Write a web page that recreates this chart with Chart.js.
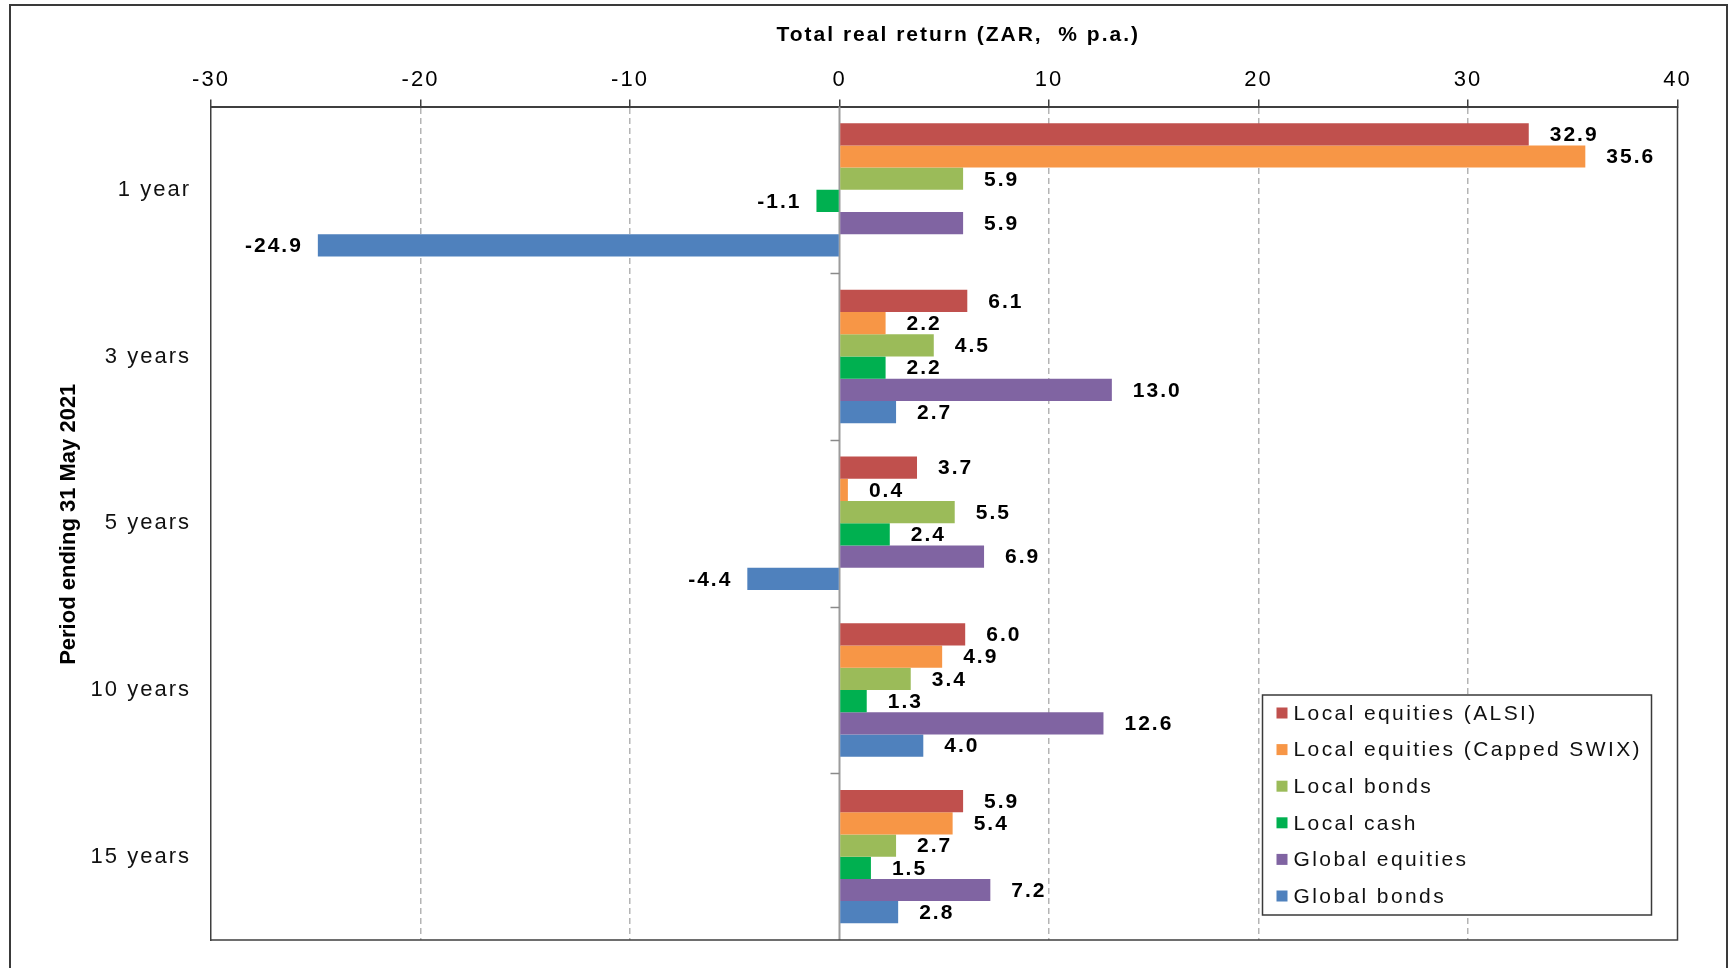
<!DOCTYPE html>
<html>
<head>
<meta charset="utf-8">
<script src="https://cdn.jsdelivr.net/npm/chart.js@4.4.1/dist/chart.umd.min.js"></script>
<style>
  html, body { margin: 0; padding: 0; background: #ffffff; overflow: hidden; }
  #wrap { position: relative; width: 1735px; height: 968px; }
  #frame { position: absolute; left: 9px; top: 4px; width: 1719px; height: 1100px;
           border: 2px solid #3a3a3a; box-sizing: border-box; pointer-events: none; }
  canvas { position: absolute; left: 0; top: 0; }
</style>
</head>
<body>
<div id="wrap">
  <canvas id="c" width="1735" height="968"></canvas>
  <div id="frame"></div>
</div>
<script>
// Periods (categories) and real returns per asset class, % p.a.
const periods = ['1 year', '3 years', '5 years', '10 years', '15 years'];
const seriesNames = [
  'Local equities (ALSI)',
  'Local equities (Capped SWIX)',
  'Local bonds',
  'Local cash',
  'Global equities',
  'Global bonds'
];
const alsi           = [32.9, 6.1, 3.7, 6.0, 5.9];
const cappedSwix     = [35.6, 2.2, 0.4, 4.9, 5.4];
const localBonds     = [5.9, 4.5, 5.5, 3.4, 2.7];
const localCash      = [-1.1, 2.2, 2.4, 1.3, 1.5];
const globalEquities = [5.9, 13.0, 6.9, 12.6, 7.2];
const globalBonds    = [-24.9, 2.7, -4.4, 4.0, 2.8];
const xTickValues    = [-30, -20, -10, 0, 10, 20, 30, 40];
const xTitle = 'Total real return (ZAR,  % p.a.)';
const yTitle = 'Period ending 31 May 2021';

const seriesColors = ['#C0504D', '#F79646', '#9BBB59', '#00B050', '#8064A2', '#4F81BD'];
const seriesValues = [alsi, cappedSwix, localBonds, localCash, globalEquities, globalBonds];

const FONT = "'Liberation Sans', Arial, Helvetica, sans-serif";

// Wider character spacing for all canvas text
const spacingPlugin = {
  id: 'spacing',
  beforeUpdate(chart) { chart.ctx.letterSpacing = '2px'; },
  beforeDraw(chart) { chart.ctx.letterSpacing = '2px'; }
};

// Zero line, category separators on it, and the plot frame
const framePlugin = {
  id: 'frame',
  beforeDatasetsDraw(chart) {
    const { ctx, chartArea: a, scales: { x } } = chart;
    const x0 = x.getPixelForValue(0);
    ctx.save();
    ctx.strokeStyle = '#9c9c9c';
    ctx.lineWidth = 2;
    ctx.beginPath();
    ctx.moveTo(x0, a.top);
    ctx.lineTo(x0, a.bottom);
    ctx.stroke();
    // small tick marks between category groups
    ctx.lineWidth = 1.5;
    ctx.strokeStyle = '#8a8a8a';
    const step = (a.bottom - a.top) / periods.length;
    for (let i = 1; i < periods.length; i++) {
      const yy = Math.round(a.top + step * i) + 0.5;
      ctx.beginPath();
      ctx.moveTo(x0 - 9, yy);
      ctx.lineTo(x0, yy);
      ctx.stroke();
    }
    ctx.restore();
  },
  afterDraw(chart) {
    const { ctx, chartArea: a } = chart;
    ctx.save();
    ctx.strokeStyle = '#3f3f3f';
    ctx.lineWidth = 1.5;
    ctx.beginPath();
    ctx.moveTo(a.right, a.top);
    ctx.lineTo(a.right, a.bottom);
    ctx.lineTo(a.left, a.bottom);
    ctx.stroke();
    ctx.restore();
  }
};

// Value labels beside each bar end
const valueLabelPlugin = {
  id: 'valueLabels',
  afterDatasetsDraw(chart) {
    const ctx = chart.ctx;
    ctx.save();
    ctx.letterSpacing = '2px';
    ctx.font = 'bold 21px ' + FONT;
    ctx.fillStyle = '#000000';
    ctx.textBaseline = 'middle';
    chart.data.datasets.forEach((ds, di) => {
      const meta = chart.getDatasetMeta(di);
      meta.data.forEach((bar, i) => {
        const v = ds.data[i];
        const txt = v.toFixed(1);
        if (v >= 0) {
          ctx.textAlign = 'left';
          ctx.fillText(txt, bar.x + 21, bar.y + 1);
        } else {
          ctx.textAlign = 'right';
          ctx.fillText(txt, bar.x - 15, bar.y + 1);
        }
      });
    });
    ctx.restore();
  }
};

// Axis titles
const titlePlugin = {
  id: 'axisTitles',
  afterDraw(chart) {
    const { ctx, chartArea: a } = chart;
    ctx.save();
    ctx.fillStyle = '#000000';
    ctx.textAlign = 'center';
    ctx.textBaseline = 'middle';
    ctx.letterSpacing = '2px';
    ctx.font = 'bold 21px ' + FONT;
    ctx.fillText(xTitle, (a.left + a.right) / 2 + 14, 35);
    ctx.letterSpacing = '0px';
    ctx.font = 'bold 22px ' + FONT;
    ctx.translate(69, (a.top + a.bottom) / 2 + 1);
    ctx.rotate(-Math.PI / 2);
    ctx.fillText(yTitle, 0, 0);
    ctx.restore();
  }
};

// Legend box inside the plot area, lower right
const legendPlugin = {
  id: 'boxLegend',
  afterDraw(chart) {
    const { ctx, chartArea: a } = chart;
    const right = a.right - 26, bottom = a.bottom - 25;
    const w = 389, h = 220;
    const left = right - w, top = bottom - h;
    ctx.save();
    ctx.fillStyle = '#ffffff';
    ctx.fillRect(left, top, w, h);
    ctx.strokeStyle = '#3a3a3a';
    ctx.lineWidth = 1.5;
    ctx.strokeRect(left, top, w, h);
    ctx.letterSpacing = '2.4px';
    ctx.font = '21px ' + FONT;
    ctx.textBaseline = 'middle';
    ctx.textAlign = 'left';
    chart.data.datasets.forEach((ds, i) => {
      const cy = top + 18 + i * 36.6;
      ctx.fillStyle = ds.backgroundColor;
      ctx.fillRect(left + 14, cy - 5.5, 11, 11);
      ctx.fillStyle = '#111111';
      ctx.fillText(ds.label, left + 31, cy + 1);
    });
    ctx.restore();
  }
};

const datasets = seriesNames.map((name, i) => ({
  label: name,
  data: seriesValues[i],
  backgroundColor: seriesColors[i],
  borderWidth: 0,
  categoryPercentage: 0.8,
  barPercentage: 1.0
}));

new Chart(document.getElementById('c'), {
  type: 'bar',
  data: { labels: periods, datasets },
  plugins: [spacingPlugin, framePlugin, valueLabelPlugin, titlePlugin, legendPlugin],
  options: {
    indexAxis: 'y',
    responsive: false,
    devicePixelRatio: 1,
    animation: false,
    layout: { padding: { left: 0, right: 57.5, top: 0, bottom: 28 } },
    plugins: {
      legend: { display: false },
      tooltip: { enabled: false },
      title: { display: false }
    },
    scales: {
      x: {
        type: 'linear',
        position: 'top',
        min: -30,
        max: 40,
        afterBuildTicks: (scale) => { scale.ticks = xTickValues.map(v => ({ value: v })); },
        afterFit: (scale) => { scale.height = 106.5; },
        ticks: {
          font: { family: FONT, size: 22 },
          color: '#000000',
          padding: 6,
          maxRotation: 0,
          autoSkip: false
        },
        grid: {
          color: (ctx) => {
            const v = ctx.tick ? ctx.tick.value : null;
            return (v === 0 || v === -30 || v === 40) ? 'rgba(0,0,0,0)' : '#b4b4b4';
          },
          lineWidth: 1.5,
          tickLength: 7,
          tickColor: '#3f3f3f',
          tickWidth: 1.5
        },
        border: { display: true, color: '#3f3f3f', width: 2, dash: [6, 4] }
      },
      y: {
        type: 'category',
        position: 'left',
        afterFit: (scale) => {
          scale.width = 211;
          scale.paddingTop = 0;
          scale.paddingBottom = 0;
        },
        ticks: {
          font: { family: FONT, size: 22 },
          color: '#111111',
          padding: 12
        },
        grid: { display: false },
        border: { display: true, color: '#3f3f3f', width: 1.5 }
      }
    }
  }
});
</script>
</body>
</html>
